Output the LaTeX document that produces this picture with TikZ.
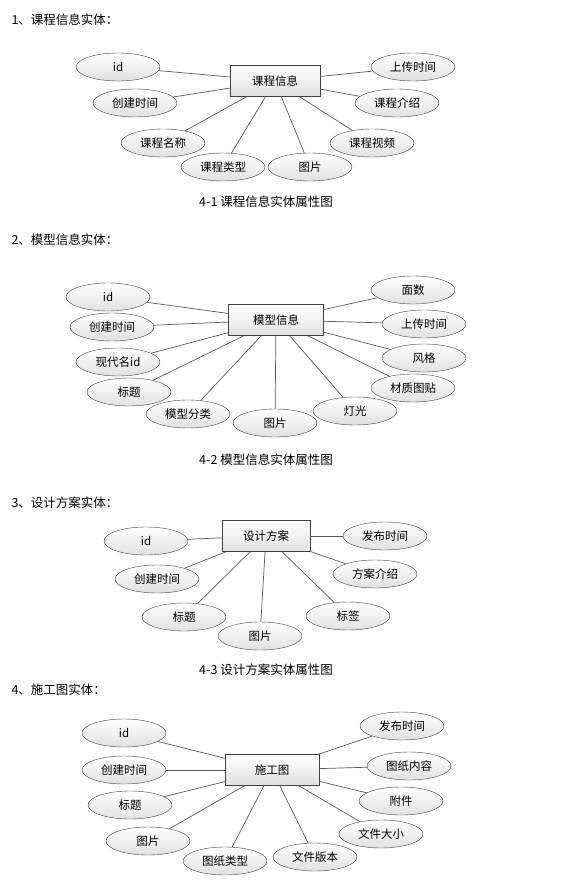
\documentclass[tikz,border=0pt]{standalone}
\usepackage{fontspec}
\setmainfont{Noto Sans CJK SC}
\usepackage{tikz}
\usetikzlibrary{shapes.geometric}
\tikzstyle{entity} = [rectangle, minimum width=90pt, minimum height=31pt, draw=black!75, top color=white, bottom color=black!12, font=\fontsize{11.5}{13}\selectfont]
\tikzstyle{attr} = [ellipse, minimum width=84pt, minimum height=28pt, inner sep=0pt, draw=black!75, top color=white, bottom color=black!12, font=\fontsize{11.5}{13}\selectfont]
\tikzstyle{title} = [anchor=west, font=\fontsize{12.5}{14}\selectfont]
\tikzstyle{caption} = [font=\fontsize{12.5}{14}\selectfont]
\tikzstyle{link} = [draw=black!65, line width=0.7pt]

\begin{document}
\begin{tikzpicture}[x=1pt, y=-1pt]
	\useasboundingbox (0,0) rectangle (568,882);

	% 1 course info
	\node (t1) [title] at (8,20) {1、课程信息实体：};
	\node (course) [entity] at (275,81) {课程信息};
	\node (c_id) [attr] at (118,67) {id};
	\node (c_ctime) [attr] at (135,103) {创建时间};
	\node (c_name) [attr] at (163,143) {课程名称};
	\node (c_type) [attr] at (223,167) {课程类型};
	\node (c_pic) [attr] at (310,167) {图片};
	\node (c_video) [attr] at (372,143) {课程视频};
	\node (c_intro) [attr] at (397,103) {课程介绍};
	\node (c_utime) [attr] at (413,67) {上传时间};
	\node (cap1) [caption] at (266,202) {4-1 课程信息实体属性图};

	\draw [link] (c_id) -- (course);
	\draw [link] (c_ctime) -- (course);
	\draw [link] (c_name) -- (course);
	\draw [link] (c_type) -- (course);
	\draw [link] (c_pic) -- (course);
	\draw [link] (c_video) -- (course);
	\draw [link] (c_intro) -- (course);
	\draw [link] (c_utime) -- (course);

	% 2 model info
	\node (t2) [title] at (8,240) {2、模型信息实体：};
	\node (model) [entity, minimum width=95pt] at (276,320) {模型信息};
	\node (m_id) [attr] at (108,297) {id};
	\node (m_ctime) [attr] at (112,327) {创建时间};
	\node (m_name) [attr] at (118,362) {现代名id};
	\node (m_title) [attr] at (129,392) {标题};
	\node (m_class) [attr] at (188,414) {模型分类};
	\node (m_pic) [attr] at (275,423) {图片};
	\node (m_light) [attr] at (355,411) {灯光};
	\node (m_tex) [attr] at (413,388) {材质图贴};
	\node (m_style) [attr] at (424,358) {风格};
	\node (m_utime) [attr] at (424,324) {上传时间};
	\node (m_faces) [attr] at (413,290) {面数};
	\node (cap2) [caption] at (266,460) {4-2 模型信息实体属性图};

	\draw [link] (m_id) -- (model);
	\draw [link] (m_ctime) -- (model);
	\draw [link] (m_name) -- (model);
	\draw [link] (m_title) -- (model);
	\draw [link] (m_class) -- (model);
	\draw [link] (m_pic) -- (model);
	\draw [link] (m_light) -- (model);
	\draw [link] (m_tex) -- (model);
	\draw [link] (m_style) -- (model);
	\draw [link] (m_utime) -- (model);
	\draw [link] (m_faces) -- (model);

	% 3 design plan
	\node (t3) [title] at (8,503) {3、设计方案实体：};
	\node (plan) [entity, minimum width=88pt] at (266,536) {设计方案};
	\node (p_id) [attr] at (146,541) {id};
	\node (p_ctime) [attr] at (157,579) {创建时间};
	\node (p_title) [attr] at (184,617) {标题};
	\node (p_pic) [attr] at (260,636) {图片};
	\node (p_tag) [attr] at (348,616) {标签};
	\node (p_intro) [attr] at (375,574) {方案介绍};
	\node (p_ptime) [attr] at (385,536) {发布时间};
	\node (cap3) [caption] at (266,670) {4-3 设计方案实体属性图};

	\draw [link] (p_id) -- (plan);
	\draw [link] (p_ctime) -- (plan);
	\draw [link] (p_title) -- (plan);
	\draw [link] (p_pic) -- (plan);
	\draw [link] (p_tag) -- (plan);
	\draw [link] (p_intro) -- (plan);
	\draw [link] (p_ptime) -- (plan);

	% 4 construction drawing
	\node (t4) [title] at (8,690) {4、施工图实体：};
	\node (draw) [entity, minimum width=94pt] at (272,770) {施工图};
	\node (d_id) [attr] at (124,733) {id};
	\node (d_ctime) [attr] at (124,770) {创建时间};
	\node (d_title) [attr] at (130,805) {标题};
	\node (d_pic) [attr] at (148,841) {图片};
	\node (d_type) [attr] at (225,861) {图纸类型};
	\node (d_ver) [attr] at (315,857) {文件版本};
	\node (d_size) [attr] at (381,834) {文件大小};
	\node (d_file) [attr] at (401,801) {附件};
	\node (d_cont) [attr] at (409,766) {图纸内容};
	\node (d_ptime) [attr] at (402,726) {发布时间};

	\draw [link] (d_id) -- (draw);
	\draw [link] (d_ctime) -- (draw);
	\draw [link] (d_title) -- (draw);
	\draw [link] (d_pic) -- (draw);
	\draw [link] (d_type) -- (draw);
	\draw [link] (d_ver) -- (draw);
	\draw [link] (d_size) -- (draw);
	\draw [link] (d_file) -- (draw);
	\draw [link] (d_cont) -- (draw);
	\draw [link] (d_ptime) -- (draw);
\end{tikzpicture}
\end{document}
